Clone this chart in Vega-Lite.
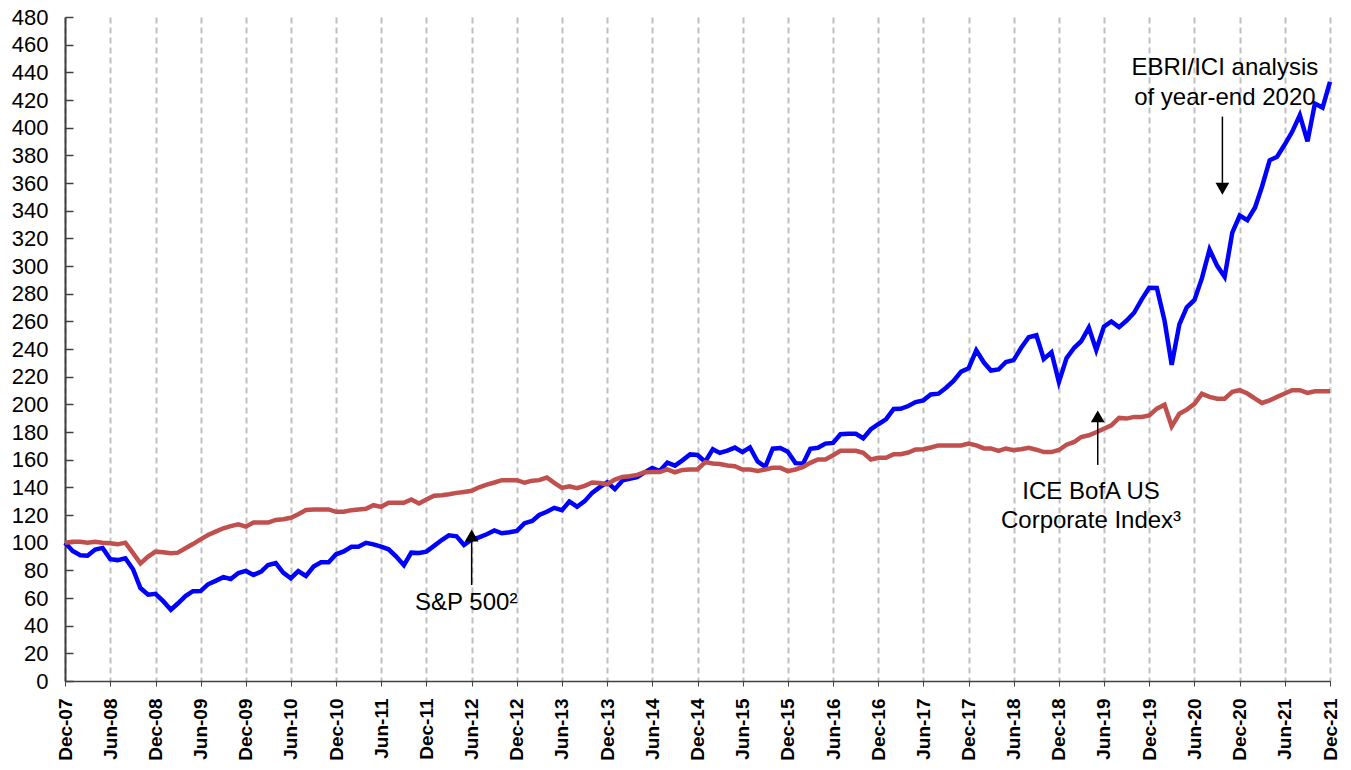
{
  "$schema": "https://vega.github.io/schema/vega-lite/v6.json",
  "width": 1265,
  "height": 664,
  "autosize": {"type": "none"},
  "padding": {"left": 65, "top": 17, "right": 21, "bottom": 89},
  "background": "white",
  "config": {
    "view": {"stroke": null},
    "font": "Liberation Sans",
    "axis": {"labelFont": "Liberation Sans", "labelColor": "#000", "title": null},
    "axisY": {
      "tickCount": 24,
      "labelFontSize": 22,
      "grid": false,
      "domainColor": "#404040",
      "domainWidth": 2,
      "tickColor": "#404040",
      "tickSize": -8,
      "tickWidth": 1.5,
      "labelPadding": 25
    },
    "axisX": {
      "labelExpr": "utcFormat(datum.value, '%b-%y')",
      "labelAngle": 270,
      "labelFontSize": 19,
      "labelFontWeight": "bold",
      "labelPadding": 12,
      "labelOverlap": false,
      "labelFlush": false,
      "grid": true,
      "gridColor": "#bfbfbf",
      "gridDash": [6, 4],
      "gridWidth": 2,
      "domainColor": "#404040",
      "domainWidth": 1.5,
      "tickColor": "#404040",
      "tickSize": 5,
      "tickWidth": 1
    }
  },
  "datasets": {
    "series": [
      {"date":"2007-12-01","sp":100,"ice":100},
      {"date":"2008-01-01","sp":94.0,"ice":100.7},
      {"date":"2008-02-01","sp":90.9,"ice":100.7},
      {"date":"2008-03-01","sp":90.5,"ice":100},
      {"date":"2008-04-01","sp":95.0,"ice":100.7},
      {"date":"2008-05-01","sp":96.2,"ice":100},
      {"date":"2008-06-01","sp":88.1,"ice":99.5},
      {"date":"2008-07-01","sp":87.4,"ice":98.8},
      {"date":"2008-08-01","sp":88.7,"ice":100},
      {"date":"2008-09-01","sp":80.8,"ice":92.5},
      {"date":"2008-10-01","sp":67.2,"ice":85},
      {"date":"2008-11-01","sp":62.4,"ice":89.9},
      {"date":"2008-12-01","sp":63.0,"ice":93.5},
      {"date":"2009-01-01","sp":57.7,"ice":93},
      {"date":"2009-02-01","sp":51.5,"ice":92.3},
      {"date":"2009-03-01","sp":56.0,"ice":92.8},
      {"date":"2009-04-01","sp":61.4,"ice":95.9},
      {"date":"2009-05-01","sp":64.9,"ice":99},
      {"date":"2009-06-01","sp":65.0,"ice":102.4},
      {"date":"2009-07-01","sp":69.9,"ice":105.5},
      {"date":"2009-08-01","sp":72.4,"ice":108},
      {"date":"2009-09-01","sp":75.1,"ice":110.4},
      {"date":"2009-10-01","sp":73.7,"ice":112},
      {"date":"2009-11-01","sp":78.1,"ice":113.3},
      {"date":"2009-12-01","sp":79.6,"ice":111.6},
      {"date":"2010-01-01","sp":76.7,"ice":114.5},
      {"date":"2010-02-01","sp":79.1,"ice":114.5},
      {"date":"2010-03-01","sp":83.9,"ice":114.5},
      {"date":"2010-04-01","sp":85.2,"ice":116.4},
      {"date":"2010-05-01","sp":78.4,"ice":116.9},
      {"date":"2010-06-01","sp":74.3,"ice":118},
      {"date":"2010-07-01","sp":79.5,"ice":120.5},
      {"date":"2010-08-01","sp":75.9,"ice":123.6},
      {"date":"2010-09-01","sp":82.7,"ice":124},
      {"date":"2010-10-01","sp":85.8,"ice":124},
      {"date":"2010-11-01","sp":85.8,"ice":124},
      {"date":"2010-12-01","sp":91.6,"ice":122.3},
      {"date":"2011-01-01","sp":93.7,"ice":122.3},
      {"date":"2011-02-01","sp":97.0,"ice":123.5},
      {"date":"2011-03-01","sp":97.0,"ice":124},
      {"date":"2011-04-01","sp":99.9,"ice":124.5},
      {"date":"2011-05-01","sp":98.8,"ice":127.1},
      {"date":"2011-06-01","sp":97.1,"ice":125.9},
      {"date":"2011-07-01","sp":95.2,"ice":128.8},
      {"date":"2011-08-01","sp":90.0,"ice":128.8},
      {"date":"2011-09-01","sp":83.7,"ice":128.8},
      {"date":"2011-10-01","sp":92.8,"ice":131.2},
      {"date":"2011-11-01","sp":92.6,"ice":128.3},
      {"date":"2011-12-01","sp":93.5,"ice":131.2},
      {"date":"2012-01-01","sp":97.7,"ice":134},
      {"date":"2012-02-01","sp":101.9,"ice":134.3},
      {"date":"2012-03-01","sp":105.3,"ice":135},
      {"date":"2012-04-01","sp":104.6,"ice":136},
      {"date":"2012-05-01","sp":98.3,"ice":136.7},
      {"date":"2012-06-01","sp":102.4,"ice":137.5},
      {"date":"2012-07-01","sp":103.8,"ice":140},
      {"date":"2012-08-01","sp":106.1,"ice":142},
      {"date":"2012-09-01","sp":108.8,"ice":143.5},
      {"date":"2012-10-01","sp":106.8,"ice":145.2},
      {"date":"2012-11-01","sp":107.5,"ice":145.2},
      {"date":"2012-12-01","sp":108.5,"ice":145.2},
      {"date":"2013-01-01","sp":114.1,"ice":143.3},
      {"date":"2013-02-01","sp":115.7,"ice":144.8},
      {"date":"2013-03-01","sp":120.0,"ice":145.2},
      {"date":"2013-04-01","sp":122.3,"ice":147.1},
      {"date":"2013-05-01","sp":125.2,"ice":143.2},
      {"date":"2013-06-01","sp":123.5,"ice":139.6},
      {"date":"2013-07-01","sp":129.8,"ice":140.8},
      {"date":"2013-08-01","sp":126.0,"ice":139.4},
      {"date":"2013-09-01","sp":130.0,"ice":141.1},
      {"date":"2013-10-01","sp":136.0,"ice":143.5},
      {"date":"2013-11-01","sp":140.1,"ice":143.1},
      {"date":"2013-12-01","sp":143.6,"ice":142.2},
      {"date":"2014-01-01","sp":138.7,"ice":145.6},
      {"date":"2014-02-01","sp":145.0,"ice":147.5},
      {"date":"2014-03-01","sp":146.2,"ice":148},
      {"date":"2014-04-01","sp":147.3,"ice":149},
      {"date":"2014-05-01","sp":150.8,"ice":150.9},
      {"date":"2014-06-01","sp":153.9,"ice":151},
      {"date":"2014-07-01","sp":151.8,"ice":151},
      {"date":"2014-08-01","sp":157.9,"ice":152.9},
      {"date":"2014-09-01","sp":155.7,"ice":150.9},
      {"date":"2014-10-01","sp":159.5,"ice":152.6},
      {"date":"2014-11-01","sp":163.8,"ice":152.9},
      {"date":"2014-12-01","sp":163.4,"ice":152.9},
      {"date":"2015-01-01","sp":158.5,"ice":158.2},
      {"date":"2015-02-01","sp":167.6,"ice":157.2},
      {"date":"2015-03-01","sp":164.9,"ice":156.8},
      {"date":"2015-04-01","sp":166.5,"ice":155.8},
      {"date":"2015-05-01","sp":168.7,"ice":155.3},
      {"date":"2015-06-01","sp":165.4,"ice":152.9},
      {"date":"2015-07-01","sp":168.9,"ice":152.9},
      {"date":"2015-08-01","sp":158.7,"ice":151.9},
      {"date":"2015-09-01","sp":154.8,"ice":152.9},
      {"date":"2015-10-01","sp":167.9,"ice":154.1},
      {"date":"2015-11-01","sp":168.4,"ice":154.1},
      {"date":"2015-12-01","sp":165.7,"ice":151.7},
      {"date":"2016-01-01","sp":157.5,"ice":152.9},
      {"date":"2016-02-01","sp":157.3,"ice":154.8},
      {"date":"2016-03-01","sp":167.9,"ice":157.7},
      {"date":"2016-04-01","sp":168.6,"ice":160.1},
      {"date":"2016-05-01","sp":171.6,"ice":160.1},
      {"date":"2016-06-01","sp":172.1,"ice":163.2},
      {"date":"2016-07-01","sp":178.4,"ice":166.4},
      {"date":"2016-08-01","sp":178.7,"ice":166.4},
      {"date":"2016-09-01","sp":178.7,"ice":166.4},
      {"date":"2016-10-01","sp":175.5,"ice":164.9},
      {"date":"2016-11-01","sp":182.0,"ice":160.1},
      {"date":"2016-12-01","sp":185.6,"ice":161.3},
      {"date":"2017-01-01","sp":189.1,"ice":161.3},
      {"date":"2017-02-01","sp":196.6,"ice":164},
      {"date":"2017-03-01","sp":196.8,"ice":164},
      {"date":"2017-04-01","sp":198.8,"ice":165.2},
      {"date":"2017-05-01","sp":201.6,"ice":167.4},
      {"date":"2017-06-01","sp":202.9,"ice":167.6},
      {"date":"2017-07-01","sp":207.1,"ice":168.8},
      {"date":"2017-08-01","sp":207.7,"ice":170.3},
      {"date":"2017-09-01","sp":212.0,"ice":170.3},
      {"date":"2017-10-01","sp":216.9,"ice":170.3},
      {"date":"2017-11-01","sp":223.6,"ice":170.3},
      {"date":"2017-12-01","sp":226.1,"ice":171.7},
      {"date":"2018-01-01","sp":239.0,"ice":170.3},
      {"date":"2018-02-01","sp":230.2,"ice":168.1},
      {"date":"2018-03-01","sp":224.4,"ice":168.1},
      {"date":"2018-04-01","sp":225.2,"ice":166.4},
      {"date":"2018-05-01","sp":230.6,"ice":168.1},
      {"date":"2018-06-01","sp":232.0,"ice":166.9},
      {"date":"2018-07-01","sp":240.7,"ice":167.6},
      {"date":"2018-08-01","sp":248.5,"ice":168.6},
      {"date":"2018-09-01","sp":249.9,"ice":167.2},
      {"date":"2018-10-01","sp":232.8,"ice":165.5},
      {"date":"2018-11-01","sp":237.6,"ice":165.5},
      {"date":"2018-12-01","sp":216.1,"ice":167},
      {"date":"2019-01-01","sp":233.4,"ice":170.8},
      {"date":"2019-02-01","sp":240.9,"ice":172.8},
      {"date":"2019-03-01","sp":245.6,"ice":176.4},
      {"date":"2019-04-01","sp":255.5,"ice":177.6},
      {"date":"2019-05-01","sp":239.3,"ice":179.8},
      {"date":"2019-06-01","sp":256.2,"ice":182.4},
      {"date":"2019-07-01","sp":259.9,"ice":184.8},
      {"date":"2019-08-01","sp":255.8,"ice":190.2},
      {"date":"2019-09-01","sp":260.6,"ice":189.7},
      {"date":"2019-10-01","sp":266.2,"ice":190.9},
      {"date":"2019-11-01","sp":275.9,"ice":190.9},
      {"date":"2019-12-01","sp":284.2,"ice":192},
      {"date":"2020-01-01","sp":284.1,"ice":196.9},
      {"date":"2020-02-01","sp":260.7,"ice":199.7},
      {"date":"2020-03-01","sp":228.5,"ice":184.1},
      {"date":"2020-04-01","sp":257.8,"ice":193.2},
      {"date":"2020-05-01","sp":270.1,"ice":196.2},
      {"date":"2020-06-01","sp":275.5,"ice":200.4},
      {"date":"2020-07-01","sp":291.0,"ice":207.6},
      {"date":"2020-08-01","sp":311.9,"ice":205.4},
      {"date":"2020-09-01","sp":300.1,"ice":204.1},
      {"date":"2020-10-01","sp":292.1,"ice":204.1},
      {"date":"2020-11-01","sp":324.1,"ice":209},
      {"date":"2020-12-01","sp":336.5,"ice":210.2},
      {"date":"2021-01-01","sp":333.1,"ice":207.8},
      {"date":"2021-02-01","sp":342.3,"ice":204.1},
      {"date":"2021-03-01","sp":357.3,"ice":201},
      {"date":"2021-04-01","sp":376.4,"ice":202.9},
      {"date":"2021-05-01","sp":379.0,"ice":205.4},
      {"date":"2021-06-01","sp":387.8,"ice":207.8},
      {"date":"2021-07-01","sp":397.0,"ice":210.2},
      {"date":"2021-08-01","sp":409.1,"ice":210.2},
      {"date":"2021-09-01","sp":390.1,"ice":208.3},
      {"date":"2021-10-01","sp":417.4,"ice":209.5},
      {"date":"2021-11-01","sp":414.5,"ice":209.5},
      {"date":"2021-12-01","sp":433.1,"ice":209.5}
    ],
    "texts": [
      {"date":"2012-05-10","value":56.4,"label":"S&P 500²"},
      {"date":"2019-04-10","value":136.7,"label":"ICE  BofA US"},
      {"date":"2019-04-10","value":115.7,"label":"Corporate Index³"},
      {"date":"2020-10-02","value":443.2,"label":"EBRI/ICI analysis"},
      {"date":"2020-10-02","value":421.5,"label":"of year-end 2020"}
    ],
    "arrows": [
      {"date":"2012-06-01","y1":69.4,"y2":103},
      {"date":"2019-05-07","y1":156.2,"y2":189},
      {"date":"2020-09-22","y1":408,"y2":358}
    ],
    "heads": [
      {"date":"2012-06-01","value":105.2,"dir":"up"},
      {"date":"2019-05-07","value":191.3,"dir":"up"},
      {"date":"2020-09-22","value":355.8,"dir":"down"}
    ]
  },
  "encoding": {
    "x": {
      "field": "date",
      "type": "temporal",
      "scale": {
        "type": "utc",
        "domain": [
          {"year":2007,"month":12,"date":1,"utc":true},
          {"year":2021,"month":12,"date":1,"utc":true}
        ]
      },
      "axis": {
        "values": [
          {"year":2007,"month":12,"date":1,"utc":true},
          {"year":2008,"month":6,"date":1,"utc":true},
          {"year":2008,"month":12,"date":1,"utc":true},
          {"year":2009,"month":6,"date":1,"utc":true},
          {"year":2009,"month":12,"date":1,"utc":true},
          {"year":2010,"month":6,"date":1,"utc":true},
          {"year":2010,"month":12,"date":1,"utc":true},
          {"year":2011,"month":6,"date":1,"utc":true},
          {"year":2011,"month":12,"date":1,"utc":true},
          {"year":2012,"month":6,"date":1,"utc":true},
          {"year":2012,"month":12,"date":1,"utc":true},
          {"year":2013,"month":6,"date":1,"utc":true},
          {"year":2013,"month":12,"date":1,"utc":true},
          {"year":2014,"month":6,"date":1,"utc":true},
          {"year":2014,"month":12,"date":1,"utc":true},
          {"year":2015,"month":6,"date":1,"utc":true},
          {"year":2015,"month":12,"date":1,"utc":true},
          {"year":2016,"month":6,"date":1,"utc":true},
          {"year":2016,"month":12,"date":1,"utc":true},
          {"year":2017,"month":6,"date":1,"utc":true},
          {"year":2017,"month":12,"date":1,"utc":true},
          {"year":2018,"month":6,"date":1,"utc":true},
          {"year":2018,"month":12,"date":1,"utc":true},
          {"year":2019,"month":6,"date":1,"utc":true},
          {"year":2019,"month":12,"date":1,"utc":true},
          {"year":2020,"month":6,"date":1,"utc":true},
          {"year":2020,"month":12,"date":1,"utc":true},
          {"year":2021,"month":6,"date":1,"utc":true},
          {"year":2021,"month":12,"date":1,"utc":true}
        ]
      }
    }
  },
  "layer": [
    {
      "data": {"name": "series"},
      "mark": {"type": "line", "color": "#0000FF", "strokeWidth": 4.5},
      "encoding": {
        "y": {
          "field": "sp",
          "type": "quantitative",
          "scale": {"domain": [0, 480], "nice": false}
        }
      }
    },
    {
      "data": {"name": "series"},
      "mark": {"type": "line", "color": "#C0504D", "strokeWidth": 4.5},
      "encoding": {
        "y": {"field": "ice", "type": "quantitative"}
      }
    },
    {
      "data": {"name": "arrows"},
      "mark": {"type": "rule", "color": "#000", "strokeWidth": 1.5},
      "encoding": {
        "y": {"field": "y1", "type": "quantitative"},
        "y2": {"field": "y2"}
      }
    },
    {
      "data": {"name": "heads"},
      "mark": {"type": "point", "filled": true, "color": "#000", "opacity": 1, "size": 190},
      "encoding": {
        "y": {"field": "value", "type": "quantitative"},
        "shape": {
          "field": "dir",
          "type": "nominal",
          "scale": {"domain": ["up", "down"], "range": ["triangle-up", "triangle-down"]},
          "legend": null
        }
      }
    },
    {
      "data": {"name": "texts"},
      "mark": {"type": "text", "font": "Liberation Sans", "fontSize": 24, "color": "#000", "align": "center", "baseline": "middle"},
      "encoding": {
        "y": {"field": "value", "type": "quantitative"},
        "text": {"field": "label"}
      }
    }
  ]
}
